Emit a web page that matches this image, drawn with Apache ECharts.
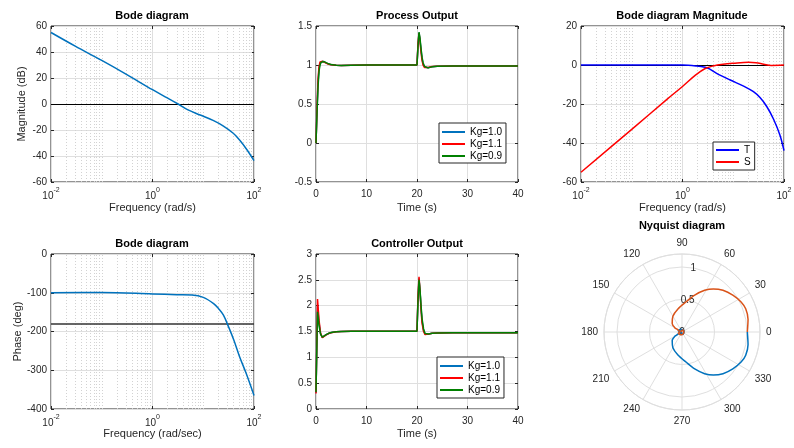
<!DOCTYPE html>
<html>
<head>
<meta charset="utf-8">
<script src="https://cdn.jsdelivr.net/npm/echarts@6/dist/echarts.min.js"></script>
<style>
  html, body { margin: 0; background: #fff; }
  #main { width: 794px; height: 448px; }
</style>
</head>
<body>
<div id="main"></div>
<script>
// values
const kgNames = ["Kg=1.0", "Kg=1.1", "Kg=0.9"];

// open loop Bode magnitude
const magFreq = [0.01, 0.03, 0.1, 0.3, 1, 2, 3.2, 5, 8.7, 16, 25, 39, 52, 72, 100];
const magDb = [55, 44.5, 33.5, 23, 11, 4.5, 0, -4.5, -8.5, -12.8, -17, -22.5, -27.7, -35, -43.6];

// open loop Bode phase
const phaseFreq = [0.01, 0.1, 1, 3, 6, 10, 16, 20, 25, 32, 40, 52, 70, 100];
const phaseDeg = [-100, -99.5, -103, -105, -106, -112, -128, -141, -158, -190, -222, -265, -308, -365];

// T and S magnitude
const tFreq = [0.01, 0.1, 1, 1.9, 2.8, 3.4, 4.7, 8.7, 16, 25, 34, 46, 62, 83, 100];
const tDb = [0, 0, 0, -0.5, -1.2, -2, -4.3, -7.7, -10.8, -13.7, -16.8, -21.4, -27.7, -35.9, -43.9];
const sFreq = [0.01, 0.1, 0.5, 1, 1.8, 2.8, 4, 6.3, 10, 20, 28, 40, 56, 100];
const sDb = [-55, -33, -17.5, -11, -5.2, -1.8, -0.5, 0.4, 0.9, 1.4, 1.2, 0.4, -0.2, 0];

// process output
const procTime = [0, 0.2, 0.4, 0.6, 0.8, 1.0, 1.3, 1.6, 2, 2.5, 3, 4, 5, 7, 10, 15, 20, 20.2, 20.4, 20.6, 20.8, 21, 21.2, 21.5, 21.8, 22.2, 23, 24, 27, 30, 35, 40];
const procKg10 = [0, 0.42, 0.77, 0.95, 1.02, 1.045, 1.048, 1.041, 1.027, 1.012, 1.003, 0.996, 0.994, 0.996, 0.999, 1.0, 1.0, 1.26, 1.415, 1.32, 1.19, 1.08, 1.015, 0.974, 0.961, 0.965, 0.979, 0.985, 0.986, 0.987, 0.987, 0.987];
const procKg11 = [0, 0.45, 0.82, 0.98, 1.04, 1.052, 1.047, 1.038, 1.024, 1.01, 1.002, 0.996, 0.995, 0.997, 0.999, 1.0, 1.0, 1.28, 1.41, 1.3, 1.16, 1.06, 1.0, 0.968, 0.962, 0.968, 0.98, 0.985, 0.987, 0.987, 0.987, 0.987];
const procKg09 = [0, 0.38, 0.72, 0.92, 1.0, 1.035, 1.048, 1.044, 1.03, 1.015, 1.005, 0.997, 0.994, 0.996, 0.999, 1.0, 1.0, 1.24, 1.42, 1.34, 1.21, 1.1, 1.03, 0.98, 0.96, 0.963, 0.978, 0.984, 0.986, 0.987, 0.987, 0.987];

// controller output
const ctrlTime = [0, 0.3, 0.6, 0.9, 1.25, 1.6, 2, 2.5, 3, 4, 5, 7, 10, 15, 20, 20.2, 20.4, 20.6, 20.8, 21, 21.3, 21.6, 21.9, 22.3, 23, 24, 27, 30, 35, 40];
const ctrlKg10 = [0.31, 2.0, 1.67, 1.46, 1.385, 1.405, 1.437, 1.462, 1.479, 1.494, 1.5, 1.503, 1.505, 1.505, 1.505, 2.15, 2.53, 2.29, 1.96, 1.7, 1.52, 1.45, 1.437, 1.45, 1.465, 1.47, 1.474, 1.475, 1.475, 1.475];
const ctrlKg11 = [0.3, 2.13, 1.72, 1.47, 1.38, 1.40, 1.435, 1.46, 1.478, 1.494, 1.5, 1.503, 1.505, 1.505, 1.505, 2.2, 2.56, 2.28, 1.92, 1.66, 1.5, 1.44, 1.435, 1.45, 1.465, 1.47, 1.474, 1.475, 1.475, 1.475];
const ctrlKg09 = [0.33, 1.88, 1.62, 1.45, 1.39, 1.41, 1.44, 1.465, 1.48, 1.495, 1.5, 1.503, 1.505, 1.505, 1.505, 2.1, 2.5, 2.3, 2.0, 1.75, 1.55, 1.46, 1.44, 1.45, 1.465, 1.47, 1.474, 1.475, 1.475, 1.475];

// Nyquist curve (positive frequencies), angle in degrees and radius
const nyqAngle = [0, -11, -20, -27, -36, -45.5, -54, -61.5, -71, -82, -100, -120, -139, -149, -152, -175, 160, 105, 25, -60, -120, 0];
const nyqRadius = [1.005, 1.035, 1.043, 1.02, 0.966, 0.90, 0.82, 0.73, 0.60, 0.47, 0.36, 0.28, 0.20, 0.13, 0.07, 0.035, 0.06, 0.045, 0.03, 0.035, 0.02, 0];

const logDecades = [-2, -1, 0, 1];

const ink = "#262626";
const gridGray = "#dfdfdf";
const minorGray = "#d2d2d2";
const font = "'Liberation Sans', Arial, sans-serif";

const chart = echarts.init(document.getElementById("main"));

// dotted minor grid positions for the log axes (every 1..9 of each decade)
const minorLog = [];
logDecades.forEach(function (d) {
  for (let k = 1; k <= 9; k++) {
    const v = d + Math.log10(k);
    if (v !== -2 && v !== 0) minorLog.push(v);
  }
});

const boxes = [
  { left: 51, top: 26, width: 203, height: 156 },
  { left: 316, top: 26, width: 202, height: 156 },
  { left: 581, top: 26, width: 203, height: 156 },
  { left: 51, top: 254, width: 203, height: 155 },
  { left: 316, top: 254, width: 202, height: 155 },
];

const tick = { inside: true, length: 3, lineStyle: { color: ink, width: 1 } };
const noLine = { show: false, onZero: false };
const logRich = {
  b: { fontSize: 10, lineHeight: 14, verticalAlign: "bottom", color: ink, fontFamily: font },
  s: { fontSize: 7, lineHeight: 8, verticalAlign: "top", color: ink, fontFamily: font },
};

function makeX(i, cfg) {
  const base = {
    type: "value", gridIndex: i, min: cfg.min, max: cfg.max, interval: cfg.interval,
    axisLine: noLine, axisTick: tick,
  };
  const label = cfg.log
    ? { formatter: function (v) { return "{b|10}{s|" + v + "}"; }, rich: logRich, margin: 5 }
    : { color: ink, fontSize: 10, margin: 7 };
  return [
    Object.assign({}, base, {
      position: "bottom", axisLabel: label,
      splitLine: { show: true, lineStyle: { color: gridGray } },
      name: cfg.name, nameLocation: "middle", nameGap: cfg.nameGap,
      nameTextStyle: { color: ink, fontSize: 11 },
    }),
    Object.assign({}, base, { position: "top", axisLabel: { show: false }, splitLine: { show: false } }),
  ];
}

function makeY(i, cfg) {
  const base = {
    type: "value", gridIndex: i, min: cfg.min, max: cfg.max, interval: cfg.interval,
    axisLine: noLine, axisTick: tick,
  };
  return [
    Object.assign({}, base, {
      position: "left", axisLabel: { color: ink, fontSize: 10, margin: 4 },
      splitLine: { show: true, lineStyle: { color: gridGray } },
      name: cfg.name || "", nameLocation: "middle", nameGap: cfg.nameGap || 0,
      nameTextStyle: { color: ink, fontSize: 11 },
    }),
    Object.assign({}, base, { position: "right", axisLabel: { show: false }, splitLine: { show: false } }),
  ];
}

const xAxis = [].concat(
  makeX(0, { min: -2, max: 2, interval: 2, log: true, name: "Frequency (rad/s)", nameGap: 20 }),
  makeX(1, { min: 0, max: 40, interval: 10, name: "Time (s)", nameGap: 20 }),
  makeX(2, { min: -2, max: 2, interval: 2, log: true, name: "Frequency (rad/s)", nameGap: 20 }),
  makeX(3, { min: -2, max: 2, interval: 2, log: true, name: "Frequency (rad/sec)", nameGap: 18 }),
  makeX(4, { min: 0, max: 40, interval: 10, name: "Time (s)", nameGap: 19 })
);
const yAxis = [].concat(
  makeY(0, { min: -60, max: 60, interval: 20, name: "Magnitude (dB)", nameGap: 24 }),
  makeY(1, { min: -0.5, max: 1.5, interval: 0.5 }),
  makeY(2, { min: -60, max: 20, interval: 20 }),
  makeY(3, { min: -400, max: 0, interval: 100, name: "Phase (deg)", nameGap: 28 }),
  makeY(4, { min: 0, max: 3, interval: 0.5 })
);

function logPairs(freq, vals) {
  return freq.map(function (f, i) { return [Math.log10(f), vals[i]]; });
}
function pairs(xs, ys) {
  return xs.map(function (x, i) { return [x, ys[i]]; });
}

function minorGrid(i) {
  return {
    type: "line", xAxisIndex: 2 * i, yAxisIndex: 2 * i, data: [[-2, null]], z: 1,
    silent: true, showSymbol: false, lineStyle: { opacity: 0 },
    markLine: {
      silent: true, symbol: "none", label: { show: false }, animation: false, z: 1,
      lineStyle: { color: minorGray, type: [1, 2], width: 1 },
      emphasis: { disabled: true },
      data: minorLog.map(function (v) { return { xAxis: v }; }),
    },
  };
}

function refLine(value, color, width) {
  return {
    silent: true, symbol: "none", label: { show: false }, animation: false, z: 2,
    lineStyle: { color: color, type: "solid", width: width },
    emphasis: { disabled: true },
    data: [{ yAxis: value }],
  };
}

function line(i, name, color, data, extra) {
  return Object.assign({
    type: "line", name: name, xAxisIndex: 2 * i, yAxisIndex: 2 * i, data: data,
    showSymbol: false, color: color, lineStyle: { width: 1.5, color: color },
    animation: false, z: 3,
  }, extra || {});
}

const blue = "#0072BD";
const red = "#FF0000";
const green = "#008000";
const smoothLog = { smooth: 0.35 };

const series = [
  minorGrid(0), minorGrid(2), minorGrid(3),
  line(0, "L", blue, logPairs(magFreq, magDb), Object.assign({ markLine: refLine(0, "#000", 1) }, smoothLog)),
  line(3, "phase", blue, logPairs(phaseFreq, phaseDeg), Object.assign({ markLine: refLine(-180, "#333", 1.5) }, smoothLog)),
  line(2, "T", "#0000FF", logPairs(tFreq, tDb), Object.assign({ markLine: refLine(0, "#000", 1) }, smoothLog)),
  line(2, "S", red, logPairs(sFreq, sDb), smoothLog),
  line(1, kgNames[0], blue, pairs(procTime, procKg10)),
  line(1, kgNames[1], red, pairs(procTime, procKg11)),
  line(1, kgNames[2], green, pairs(procTime, procKg09)),
  line(4, kgNames[0], blue, pairs(ctrlTime, ctrlKg10)),
  line(4, kgNames[1], red, pairs(ctrlTime, ctrlKg11)),
  line(4, kgNames[2], green, pairs(ctrlTime, ctrlKg09)),
  {
    type: "line", name: "nyq+", coordinateSystem: "polar", polarIndex: 0, showSymbol: false,
    smooth: 0.3, animation: false, color: blue, lineStyle: { width: 1.5, color: blue },
    data: nyqRadius.map(function (r, i) { return [r, (nyqAngle[i] + 360) % 360]; }),
  },
  {
    type: "line", name: "nyq-", coordinateSystem: "polar", polarIndex: 0, showSymbol: false,
    smooth: 0.3, animation: false, color: "#D95319", lineStyle: { width: 1.5, color: "#D95319" },
    data: nyqRadius.map(function (r, i) { return [r, (360 - nyqAngle[i]) % 360]; }),
  },
];

const legendBase = {
  orient: "vertical", icon: "rect", itemWidth: 23, itemHeight: 2, itemGap: 0, z: 10,
  backgroundColor: "#fff", borderColor: ink, borderWidth: 1, borderRadius: 0,
  textStyle: { color: "#000", fontSize: 10, lineHeight: 12 }, selectedMode: false,
};

function title(text, cx, top) {
  return {
    text: text, left: cx, top: top, textAlign: "center", padding: 0,
    textStyle: { fontSize: 11, fontWeight: "bold", color: "#000", fontFamily: font },
  };
}

const option = {
  backgroundColor: "#fff",
  textStyle: { fontFamily: font },
  animation: false,
  title: [
    title("Bode diagram", 152, 10),
    title("Process Output", 417, 10),
    title("Bode diagram Magnitude", 682, 10),
    title("Bode diagram", 152, 238),
    title("Controller Output", 417, 238),
    title("Nyquist diagram", 682, 220),
  ],
  legend: [
    Object.assign({}, legendBase, { data: kgNames, left: 439, top: 123, padding: [3, 4, 1, 3] }),
    Object.assign({}, legendBase, { data: ["T", "S"], left: 713, top: 142, padding: [2, 4, 2, 3] }),
    Object.assign({}, legendBase, { data: kgNames, left: 437, top: 357, padding: [3, 4, 2, 3] }),
  ],
  grid: boxes.map(function (b) {
    return Object.assign({ show: true, borderColor: ink, borderWidth: 1, backgroundColor: "#fff", outerBoundsMode: "none", containLabel: false }, b);
  }),
  xAxis: xAxis,
  yAxis: yAxis,
  polar: [
    { center: [682, 332], radius: 78 },
    { center: [682, 332], radius: 78 },
  ],
  angleAxis: [
    {
      polarIndex: 0, type: "value", min: 0, max: 360, interval: 30, startAngle: 0, clockwise: false,
      axisLine: { lineStyle: { color: gridGray } }, axisTick: { show: false },
      splitLine: { lineStyle: { color: gridGray } },
      axisLabel: { color: ink, fontSize: 10, margin: 6 },
    },
    { polarIndex: 1, type: "value", min: 0, max: 360, startAngle: 80, clockwise: false, show: false },
  ],
  radiusAxis: [
    {
      polarIndex: 0, type: "value", min: 0, max: 1.2, interval: 0.5,
      axisLine: { show: false }, axisTick: { show: false }, axisLabel: { show: false },
      splitLine: { show: true, lineStyle: { color: gridGray } },
    },
    {
      polarIndex: 1, type: "value", min: 0, max: 1.2, interval: 0.5,
      axisLine: { show: false }, axisTick: { show: false }, splitLine: { show: false },
      axisLabel: {
        color: ink, fontSize: 10, margin: 0, align: "center", verticalAlign: "middle",
        formatter: function (v) { return v > 1.1 ? "" : String(v); },
      },
    },
  ],
  series: series,
};

chart.setOption(option);
</script>
</body>
</html>
